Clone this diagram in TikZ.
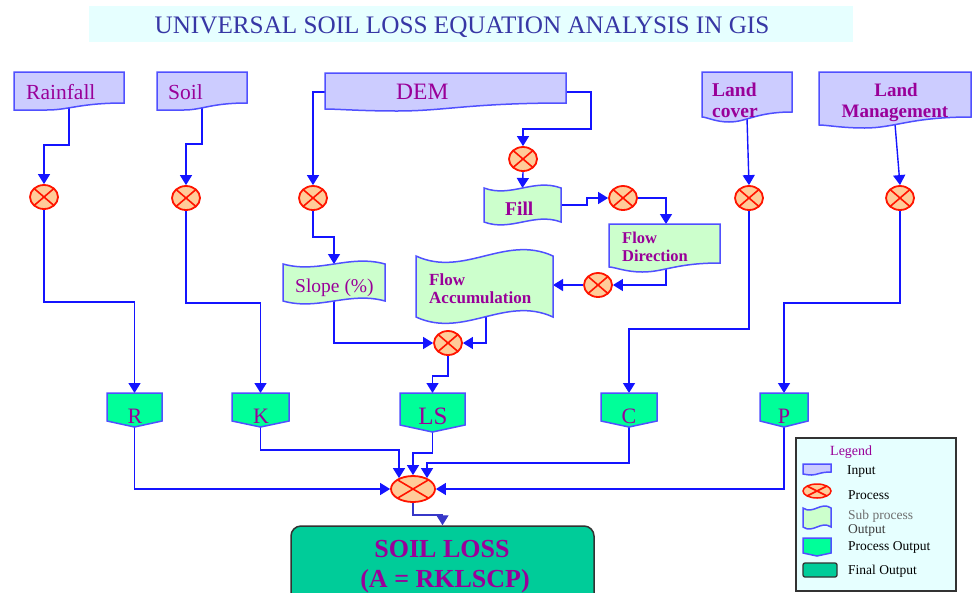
\documentclass[tikz,border=0pt]{standalone}
\usepackage{fontspec}
\setmainfont{Liberation Serif}
\usetikzlibrary{arrows.meta,shapes.geometric,calc}
\pgfdeclarelayer{lines}
\pgfsetlayers{lines,main}
\definecolor{lineblue}{RGB}{20,20,255}
\definecolor{darkblue}{RGB}{55,55,200}
\definecolor{inborder}{RGB}{80,80,255}
\definecolor{infill}{RGB}{204,204,255}
\definecolor{subfill}{RGB}{204,255,204}
\definecolor{poutfill}{RGB}{0,255,153}
\definecolor{finalfill}{RGB}{0,204,153}
\definecolor{procred}{RGB}{255,20,0}
\definecolor{procfill}{RGB}{255,204,153}
\definecolor{txtpurple}{RGB}{153,0,153}
\definecolor{titlecol}{RGB}{55,55,165}
\definecolor{titlebg}{RGB}{230,255,255}
\definecolor{boxgray}{RGB}{50,50,50}
\newcommand\myfs[1]{\fontsize{#1}{#1}\selectfont}
\newcommand\docshape[4]{%
\path[#1] let \p1=(#2.north west), \p2=(#2.south east), \n1={\x2-\x1} in
 (\x1,\y1) -- (\x2,\y1) -- (\x2,\y2+#3)
 .. controls (\x1+0.6*\n1,\y2+#3) and (\x1+0.5*\n1,\y2) .. (\x1+0.3*\n1,\y2)
 .. controls (\x1+0.15*\n1,\y2) and (\x1+0.05*\n1,\y2+#4) .. (\x1,\y2+#4) -- cycle;}
\newcommand\tapeshape[3]{%
\path[#1] let \p1=(#2.north west), \p2=(#2.south east), \n1={\x2-\x1} in
 (\x1,\y1) .. controls (\x1+0.35*\n1,\y1-#3) and (\x1+0.65*\n1,\y1+#3) .. (\x2,\y1)
 -- (\x2,\y2) .. controls (\x1+0.65*\n1,\y2+#3) and (\x1+0.35*\n1,\y2-#3) .. (\x1,\y2) -- cycle;}
\newcommand\poutshape[3]{%
\path[#1] let \p1=(#2.north west), \p2=(#2.south east) in
 (\x1,\y1) -- (\x2,\y1) -- (\x2,\y2+#3) -- ({(\x1+\x2)/2},\y2) -- (\x1,\y2+#3) -- cycle;}
\tikzset{
 geo/.style={rectangle,draw=none,inner sep=0pt,outer sep=0pt},
 conn/.style={draw=lineblue,line width=1.4pt,-{Triangle[width=12pt,length=10pt]}},
 proc/.style={ellipse,draw=procred,fill=procfill,line width=1.8pt,minimum width=28pt,minimum height=24pt,inner sep=0pt,
   path picture={\draw[procred,line width=1.6pt] (path picture bounding box.north west) -- (path picture bounding box.south east)
   (path picture bounding box.north east) -- (path picture bounding box.south west);}},
 inshape/.style={fill=infill,draw=inborder,line width=1.5pt},
 subshape/.style={fill=subfill,draw=inborder,line width=1.5pt},
 poshape/.style={fill=poutfill,draw=inborder,line width=1.5pt},
 lbl/.style={text=txtpurple,inner sep=0pt,anchor=base west},
 leg/.style={text=black,inner sep=0pt,anchor=base west,font=\myfs{13.5}},
}
\begin{document}
\begin{tikzpicture}[x=1pt,y=-1pt]
\useasboundingbox (0,0) rectangle (973,592);
\clip (0,0) rectangle (973,592);
% title
\node[geo,fill=titlebg,minimum width=764pt,minimum height=36pt] (titlebar) at (471,24) {};
\node[lbl,text=titlecol,anchor=base,font=\myfs{25.2}] (title) at (462,33) {UNIVERSAL SOIL LOSS EQUATION ANALYSIS IN GIS};
% geometry nodes
\node[geo,minimum width=110pt,minimum height=38pt] (rain) at (69,91) {};
\node[geo,minimum width=90pt,minimum height=38pt] (soil) at (202,91) {};
\node[geo,minimum width=241pt,minimum height=38pt] (dem) at (445.5,92) {};
\node[geo,minimum width=90pt,minimum height=50pt] (lcover) at (747,97) {};
\node[geo,minimum width=152pt,minimum height=56pt] (lmgmt) at (895,100) {};
\node[geo,minimum width=77pt,minimum height=34pt] (fill) at (522.5,205) {};
\node[geo,minimum width=102pt,minimum height=37pt] (slope) at (334,282.5) {};
\node[geo,minimum width=137pt,minimum height=61pt] (facc) at (484.5,286.5) {};
\node[geo,minimum width=111pt,minimum height=48pt] (fdir) at (664.5,248) {};
\node[geo,minimum width=55pt,minimum height=34pt] (r) at (134.5,410) {};
\node[geo,minimum width=57pt,minimum height=34pt] (k) at (260.5,410) {};
\node[geo,minimum width=65pt,minimum height=39pt] (ls) at (432.5,412.5) {};
\node[geo,minimum width=56pt,minimum height=34pt] (c) at (629,410) {};
\node[geo,minimum width=48pt,minimum height=34pt] (pp) at (784,410) {};
% shapes
\docshape{inshape}{rain}{7pt}{0pt}
\docshape{inshape}{soil}{7pt}{0pt}
\docshape{inshape}{dem}{8pt}{2pt}
\docshape{inshape}{lcover}{10pt}{5pt}
\docshape{inshape}{lmgmt}{11pt}{3pt}
\docshape{subshape}{fdir}{9pt}{5pt}
\tapeshape{subshape}{fill}{10pt}
\tapeshape{subshape}{slope}{10pt}
\tapeshape{subshape}{facc}{22pt}
\poutshape{poshape}{r}{6pt}
\poutshape{poshape}{k}{6pt}
\poutshape{poshape}{ls}{7pt}
\poutshape{poshape}{c}{6pt}
\poutshape{poshape}{pp}{6pt}
% processes
\node[proc] (p1) at (44,197) {};
\node[proc] (p2) at (186,198) {};
\node[proc] (p3) at (313,198) {};
\node[proc] (p4) at (523,159) {};
\node[proc] (p5) at (623,198) {};
\node[proc] (p6) at (749,198) {};
\node[proc] (p7) at (900,198) {};
\node[proc] (p8) at (598,285) {};
\node[proc] (p9) at (448,343) {};
\node[proc,minimum width=44pt,minimum height=26pt] (p10) at (413,489) {};
% final output
\node[rectangle,rounded corners=10pt,fill=finalfill,draw=boxgray,line width=1.5pt,minimum width=303pt,minimum height=78pt] (final) at (442.5,565) {};
% connectors
\begin{pgfonlayer}{lines}
\fill[white] (0,0) rectangle (973,592);
\fill[titlebg] (titlebar.north west) rectangle (titlebar.south east);
\draw[conn] ([yshift=4pt]rain.south) -- ++(0,39) -| (p1.north);
\draw[conn] ([yshift=4pt]soil.south) -- ++(0,38) -| (p2.north);
\draw[conn] ([xshift=2pt]dem.west) -| (p3.north);
\draw[conn] ([xshift=-2pt]dem.east) -- ++(27,0) -- ++(0,37) -| (p4.north);
\draw[conn] (p4.south) -- (fill.north);
\draw[conn] ([xshift=-2pt]fill.east) -- ++(28,0) |- (p5.west);
\draw[conn] (p5.east) -| ([xshift=1.5pt]fdir.north);
\draw[conn] ([xshift=1.5pt,yshift=6pt]fdir.south) |- (p8.east);
\draw[conn] (p8.west) -- (p8.west -| facc.east);
\draw[conn] (p3.south) -- ++(0,26) -| (slope.north);
\draw[conn] ([yshift=4pt]slope.south) |- (p9.west);
\draw[conn] ([xshift=1.5pt,yshift=4pt]facc.south) |- (p9.east);
\draw[conn] (p9.south) -- ++(0,20) -| (ls.north);
\draw[conn] (p1.south) -- ++(0,92) -| (r.north);
\draw[conn] (p2.south) -- ++(0,92) -| (k.north);
\draw[conn] (p6.south) -- ++(0,118) -| (c.north);
\draw[conn] (p7.south) -- ++(0,92) -| (pp.north);
\draw[conn] ([yshift=4pt]lcover.south) -- (p6.north);
\draw[conn] ([yshift=4pt]lmgmt.south) -- (p7.north);
\draw[conn] ([yshift=3pt]r.south) |- (p10.west);
\draw[conn] ([yshift=3pt]k.south) -- ++(0,26) -| ([xshift=-14pt,yshift=-3pt]p10.north);
\draw[conn] ([yshift=3pt]ls.south) -- ++(0,24) -| (p10.north);
\draw[conn] ([yshift=3pt]c.south) -- ++(0,39) -| ([xshift=14pt,yshift=-3pt]p10.north);
\draw[conn] ([yshift=3pt]pp.south) |- (p10.east);
\draw[conn,draw=darkblue] (p10.south) -- ++(0,12) -| (final.north);
\end{pgfonlayer}
% texts
\node[lbl,font=\myfs{21.5}] (rainT) at (26,99) {Rainfall};
\node[lbl,font=\myfs{21.5}] (soilT) at (168,99) {Soil};
\node[lbl,font=\myfs{23.5}] (demT) at (396,99) {DEM};
\node[lbl,font=\bfseries\myfs{19.5}] (lcT1) at (712,96) {Land};
\node[lbl,font=\bfseries\myfs{19.5}] (lcT2) at (712,117) {cover};
\node[lbl,anchor=base,font=\bfseries\myfs{19}] (lmT1) at (896,96) {Land};
\node[lbl,anchor=base,font=\bfseries\myfs{19}] (lmT2) at (895,117) {Management};
\node[lbl,font=\bfseries\myfs{19.5}] (fillT) at (505,215) {Fill};
\node[lbl,font=\bfseries\myfs{16.5}] (fdT1) at (622,243) {Flow};
\node[lbl,font=\bfseries\myfs{16.5}] (fdT2) at (622,261) {Direction};
\node[lbl,font=\myfs{19.5}] (slopeT) at (295,292) {Slope (\%)};
\node[lbl,font=\bfseries\myfs{17}] (faT1) at (429,285) {Flow};
\node[lbl,font=\bfseries\myfs{17}] (faT2) at (429,303) {Accumulation};
\node[lbl,anchor=base,font=\myfs{22}] (rT) at (135,423) {R};
\node[lbl,anchor=base,font=\myfs{22}] (kT) at (261,423) {K};
\node[lbl,anchor=base,font=\myfs{25}] (lsT) at (433,424) {LS};
\node[lbl,anchor=base,font=\myfs{22}] (cT) at (629,423) {C};
\node[lbl,anchor=base,font=\myfs{22}] (pT) at (784,423) {P};
\node[lbl,anchor=base,font=\bfseries\myfs{26}] (finT1) at (442,557) {SOIL LOSS};
\node[lbl,anchor=base,font=\bfseries\myfs{26}] (finT2) at (445,587) {(A = RKLSCP)};
% legend
\node[rectangle,fill=titlebg,draw=boxgray,line width=1.3pt,minimum width=160pt,minimum height=153pt] (legend) at (876,514.5) {};
\node[geo,minimum width=28pt,minimum height=11pt] (li1) at (817,469.5) {};
\docshape{inshape}{li1}{3pt}{1pt}
\node[proc,minimum width=28pt,minimum height=14pt,line width=1.5pt] (li2) at (817,491) {};
\node[geo,minimum width=28pt,minimum height=19pt] (li3) at (817,517.5) {};
\tapeshape{subshape}{li3}{7pt}
\node[geo,minimum width=28pt,minimum height=18pt] (li4) at (817,547) {};
\poutshape{poshape}{li4}{3pt}
\node[rectangle,rounded corners=2pt,fill=finalfill,draw=boxgray,line width=1.3pt,minimum width=34pt,minimum height=14pt] (li5) at (820,570) {};
\node[lbl,font=\myfs{14}] (legT) at (830,455) {Legend};
\node[leg] (legIn) at (847,474) {Input};
\node[leg] (legPr) at (848,499) {Process};
\node[leg,text={rgb,255:red,110;green,110;blue,110}] (legSub1) at (848,519) {Sub process};
\node[leg,text={rgb,255:red,60;green,60;blue,60}] (legSub2) at (848,533) {Output};
\node[leg] (legPo) at (848,550) {Process Output};
\node[leg] (legFi) at (848,574) {Final Output};
\end{tikzpicture}
\end{document}
